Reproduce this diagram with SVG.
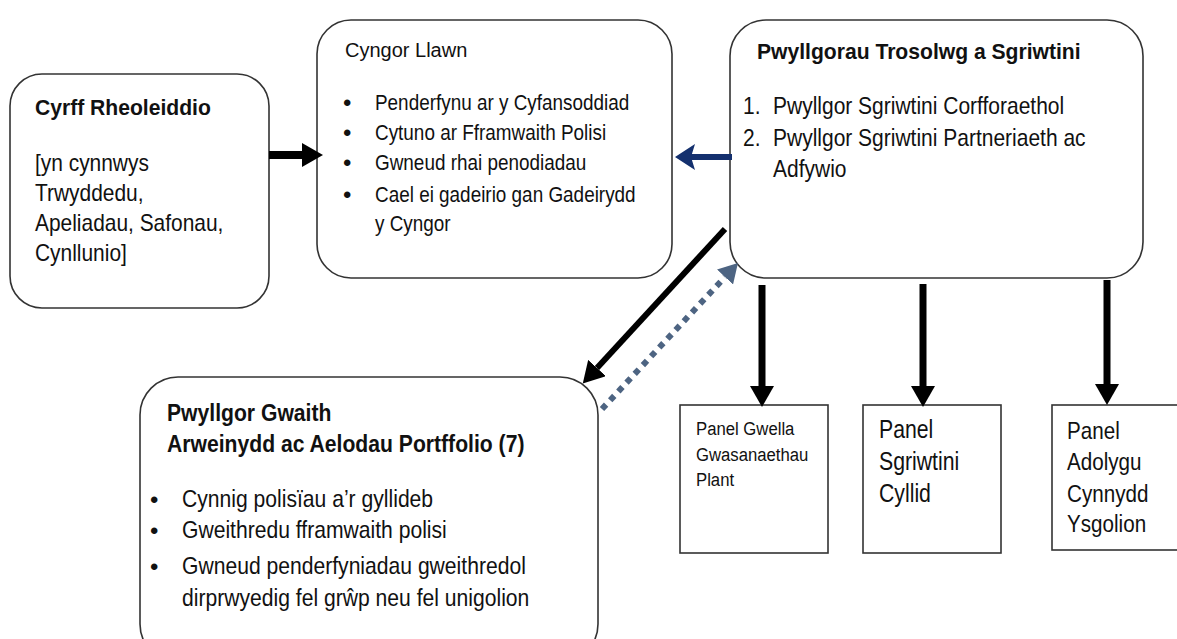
<svg xmlns="http://www.w3.org/2000/svg" width="1177" height="639" viewBox="0 0 1177 639">
<style>
.box{fill:#fff;stroke:#333;stroke-width:1.6}
.t{font-family:"Liberation Sans",Arial,sans-serif;fill:#111}
.b{font-weight:bold}
.blk{stroke:#000;fill:none}
.bul{font-family:"Liberation Sans",Arial,sans-serif;fill:#111;font-size:24px}
</style>
<defs>
<marker id="ahB" markerUnits="userSpaceOnUse" markerWidth="21" markerHeight="24" viewBox="0 0 21 24" refX="0" refY="12" orient="auto"><path d="M0,0 L21,12 L0,24 z" fill="#000"/></marker>
<marker id="ahN" markerUnits="userSpaceOnUse" markerWidth="20" markerHeight="26" viewBox="0 0 20 26" refX="4" refY="13" orient="auto"><path d="M0,0 L20,13 L0,26 L4,13 z" fill="#14306e"/></marker>
<marker id="ahD" markerUnits="userSpaceOnUse" markerWidth="19" markerHeight="22" viewBox="0 0 19 22" refX="0" refY="11" orient="auto"><path d="M0,0 L19,11 L0,22 z" fill="#4d6482"/></marker>
</defs>
<rect width="1177" height="639" fill="#fff"/>

<g id="cyrff-rheoleiddio">
<rect class="box" x="10" y="74" width="259" height="234" rx="32"/>
<text class="t b" font-size="22" transform="translate(35 115) scale(0.96 1)">Cyrff Rheoleiddio</text>
<g transform="translate(35 0) scale(0.91 1)" class="t" font-size="23">
<text x="0" y="171">[yn cynnwys</text>
<text x="0" y="201">Trwyddedu,</text>
<text x="0" y="231">Apeliadau, Safonau,</text>
<text x="0" y="261">Cynllunio]</text>
</g>
</g>

<g id="cyngor-llawn">
<rect class="box" x="317" y="20" width="355" height="258" rx="34"/>
<text class="t" font-size="20" x="345" y="57">Cyngor Llawn</text>
<g class="bul">
<text x="343" y="111">•</text>
<text x="343" y="141">•</text>
<text x="343" y="171">•</text>
<text x="343" y="203">•</text>
</g>
<g transform="translate(375 0) scale(0.86 1)" class="t" font-size="22">
<text x="0" y="110">Penderfynu ar y Cyfansoddiad</text>
<text x="0" y="140">Cytuno ar Fframwaith Polisi</text>
<text x="0" y="170">Gwneud rhai penodiadau</text>
<text x="0" y="202">Cael ei gadeirio gan Gadeirydd</text>
<text x="0" y="231">y Cyngor</text>
</g>
</g>

<g id="pwyllgorau-trosolwg">
<rect class="box" x="730" y="20" width="413" height="258" rx="36"/>
<text class="t b" font-size="22" transform="translate(757 59) scale(0.96 1)">Pwyllgorau Trosolwg a Sgriwtini</text>
<g transform="translate(743 0) scale(0.875 1)" class="t" font-size="24">
<text x="0" y="114">1.</text>
<text x="0" y="146">2.</text>
</g>
<g transform="translate(773 0) scale(0.875 1)" class="t" font-size="24">
<text x="0" y="114">Pwyllgor Sgriwtini Corfforaethol</text>
<text x="0" y="146">Pwyllgor Sgriwtini Partneriaeth ac</text>
<text x="0" y="177">Adfywio</text>
</g>
</g>

<g id="pwyllgor-gwaith">
<rect class="box" x="140" y="377" width="458" height="285" rx="38"/>
<g transform="translate(167 0) scale(0.92 1)" class="t b" font-size="23">
<text x="0" y="421">Pwyllgor Gwaith</text>
<text x="0" y="452">Arweinydd ac Aelodau Portffolio (7)</text>
</g>
<g class="bul">
<text x="150" y="508">•</text>
<text x="150" y="539">•</text>
<text x="150" y="575">•</text>
</g>
<g transform="translate(182 0) scale(0.88 1)" class="t" font-size="24">
<text x="0" y="507">Cynnig polisïau a’r gyllideb</text>
<text x="0" y="538">Gweithredu fframwaith polisi</text>
<text x="0" y="574">Gwneud penderfyniadau gweithredol</text>
<text x="0" y="606">dirprwyedig fel grŵp neu fel unigolion</text>
</g>
</g>

<g id="panel-gwella">
<rect class="box" x="680" y="405" width="148" height="148"/>
<g transform="translate(696 0) scale(0.88 1)" class="t" font-size="19">
<text x="0" y="435">Panel Gwella</text>
<text x="0" y="461">Gwasanaethau</text>
<text x="0" y="486">Plant</text>
</g>
</g>

<g id="panel-sgriwtini-cyllid">
<rect class="box" x="863" y="405" width="138" height="148"/>
<g transform="translate(879 0) scale(0.85 1)" class="t" font-size="25">
<text x="0" y="438">Panel</text>
<text x="0" y="470">Sgriwtini</text>
<text x="0" y="502">Cyllid</text>
</g>
</g>

<g id="panel-adolygu">
<rect class="box" x="1052" y="405" width="130" height="145"/>
<g transform="translate(1067 0) scale(0.86 1)" class="t" font-size="24">
<text x="0" y="439">Panel</text>
<text x="0" y="470">Adolygu</text>
<text x="0" y="502">Cynnydd</text>
<text x="0" y="532">Ysgolion</text>
</g>
</g>

<g id="connectors">
<line class="blk" x1="269" y1="155" x2="302" y2="155" stroke-width="8" marker-end="url(#ahB)"/>
<line x1="732" y1="157" x2="691" y2="157" stroke="#14306e" stroke-width="6" marker-end="url(#ahN)"/>
<line class="blk" x1="725" y1="229" x2="597" y2="368" stroke-width="6" marker-end="url(#ahB)"/>
<line x1="602" y1="409" x2="725" y2="277" stroke="#4d6482" stroke-width="6" stroke-dasharray="6 6" marker-end="url(#ahD)"/>
<line class="blk" x1="762" y1="285" x2="762" y2="386" stroke-width="7" marker-end="url(#ahB)"/>
<line class="blk" x1="923" y1="284" x2="923" y2="386" stroke-width="7" marker-end="url(#ahB)"/>
<line class="blk" x1="1107" y1="280" x2="1107" y2="384" stroke-width="7" marker-end="url(#ahB)"/>
</g>
</svg>
